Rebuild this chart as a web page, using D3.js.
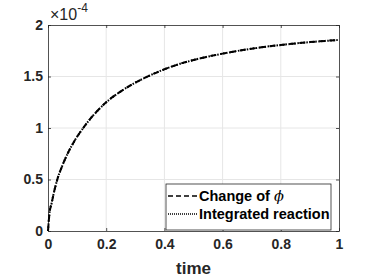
<!DOCTYPE html>
<html lang='en'>
    <head>
        <meta charset='utf-8'>
        <title>Change of phi vs integrated reaction</title>
        <script src="https://d3js.org/d3.v7.min.js" charset='utf-8'></script>
        <style type='text/css'>
            body { margin: 0; background: #fff; }
            svg { display: block; font-family: 'Liberation Sans', Arial, sans-serif; }
            .tick text { font-weight: bold; font-size: 14px; fill: #262626; }
        </style>
    </head>
    <body>
        <script type='text/javascript'>
            // values (y in units of 1e-4)
            var times = [0, 0.005, 0.0125, 0.02, 0.032, 0.05, 0.068, 0.09, 0.121, 0.15, 0.175, 0.2, 0.25, 0.3, 0.35, 0.4, 0.45, 0.5, 0.6, 0.7, 0.8, 0.9, 1.0];
            var changePhi = [0, 0.17, 0.27, 0.37, 0.50, 0.64, 0.755, 0.87, 1.00, 1.105, 1.182, 1.25, 1.355, 1.44, 1.51, 1.57, 1.62, 1.66, 1.722, 1.77, 1.806, 1.834, 1.855];
            var integrated = changePhi.slice();
            var xTicks = [0, 0.2, 0.4, 0.6, 0.8, 1];
            var yTicks = [0, 0.5, 1, 1.5, 2];
            var xTickLabels = ['0', '0.2', '0.4', '0.6', '0.8', '1'];
            var yTickLabels = ['0', '0.5', '1', '1.5', '2'];

            var W = 374, H = 280;
            var margin = {top: 25, right: 35, bottom: 49, left: 48};
            var width = W - margin.left - margin.right;
            var height = H - margin.top - margin.bottom;
            var axisColor = '#262626';

            var svg = d3.select('body').append('svg')
                .attr('width', W)
                .attr('height', H);
            var g = svg.append('g')
                .attr('transform', 'translate(' + margin.left + ',' + margin.top + ')');

            var x = d3.scaleLinear().domain([0, 1]).range([0, width]);
            var y = d3.scaleLinear().domain([0, 2]).range([height, 0]);

            // grid
            g.append('g').selectAll('line').data(xTicks.slice(1, -1)).enter().append('line')
                .attr('x1', function(d) { return x(d); }).attr('x2', function(d) { return x(d); })
                .attr('y1', 0).attr('y2', height)
                .attr('stroke', '#e6e6e6').attr('stroke-width', 1);
            g.append('g').selectAll('line').data(yTicks.slice(1, -1)).enter().append('line')
                .attr('y1', function(d) { return y(d); }).attr('y2', function(d) { return y(d); })
                .attr('x1', 0).attr('x2', width)
                .attr('stroke', '#e6e6e6').attr('stroke-width', 1);

            // axes
            var xAxis = g.append('g')
                .attr('transform', 'translate(0,' + height + ')')
                .call(d3.axisBottom(x).tickValues(xTicks).tickSizeInner(-3).tickSizeOuter(0).tickPadding(7)
                    .tickFormat(function(d, i) { return xTickLabels[i]; }));
            var yAxis = g.append('g')
                .call(d3.axisLeft(y).tickValues(yTicks).tickSizeInner(-3).tickSizeOuter(0).tickPadding(5)
                    .tickFormat(function(d, i) { return yTickLabels[i]; }));
            var xTop = g.append('g')
                .call(d3.axisTop(x).tickValues(xTicks).tickSizeInner(-3).tickSizeOuter(0).tickFormat(''));
            var yRight = g.append('g')
                .attr('transform', 'translate(' + width + ',0)')
                .call(d3.axisRight(y).tickValues(yTicks).tickSizeInner(-3).tickSizeOuter(0).tickFormat(''));
            [xAxis, yAxis, xTop, yRight].forEach(function(a) {
                a.select('.domain').attr('stroke', axisColor).attr('stroke-width', 0.8);
                a.selectAll('.tick line').attr('stroke', axisColor).attr('stroke-width', 0.8);
            });
            xAxis.selectAll('.tick text').attr('dy', '0.75em');

            // exponent label
            var expo = svg.append('text')
                .attr('x', margin.left + 2)
                .attr('y', 19.5)
                .attr('fill', axisColor)
                .style('font-size', '16px');
            expo.append('tspan').text('\u00d710');
            expo.append('tspan').attr('dy', -8).style('font-size', '12px').text('-4');

            // x label
            svg.append('text')
                .attr('x', margin.left + width / 2)
                .attr('y', 274)
                .attr('text-anchor', 'middle')
                .attr('fill', axisColor)
                .style('font-weight', 'bold')
                .style('font-size', '17px')
                .text('time');

            // lines
            var line = d3.line()
                .x(function(d) { return x(d[0]); })
                .y(function(d) { return y(d[1]); })
                .curve(d3.curveMonotoneX);
            g.append('path')
                .datum(times.map(function(t, i) { return [t, changePhi[i]]; }))
                .attr('d', line)
                .attr('fill', 'none')
                .attr('stroke', '#000')
                .attr('stroke-width', 2)
                .attr('stroke-dasharray', '6,4');
            g.append('path')
                .datum(times.map(function(t, i) { return [t, integrated[i]]; }))
                .attr('d', line)
                .attr('fill', 'none')
                .attr('stroke', '#000')
                .attr('stroke-width', 2)
                .attr('stroke-dasharray', '1.5,1.5');

            // legend
            var lg = svg.append('g').attr('transform', 'translate(166,184)');
            lg.append('rect')
                .attr('x', 0).attr('y', 0).attr('width', 165).attr('height', 46)
                .attr('fill', '#fff').attr('stroke', axisColor).attr('stroke-width', 0.8);
            var items = [
                {name: 'Change of ', sym: '\u03d5', dash: '5,3'},
                {name: 'Integrated reaction', sym: '', dash: '1,1'}
            ];
            items.forEach(function(it, i) {
                var yy = 12 + i * 18;
                lg.append('line')
                    .attr('x1', 2).attr('x2', 31).attr('y1', yy).attr('y2', yy)
                    .attr('stroke', '#000').attr('stroke-width', 1.5)
                    .attr('stroke-dasharray', it.dash);
                var t = lg.append('text')
                    .attr('x', 33).attr('y', yy + 5)
                    .attr('fill', '#000')
                    .style('font-weight', 'bold')
                    .style('font-size', '14.5px')
                    .text(it.name);
                if (it.sym) {
                    t.append('tspan').style('font-style', 'italic').style('font-weight', 'normal')
                        .style('font-family', 'DejaVu Serif, serif').text(it.sym);
                }
            });
        </script>
    </body>
</html>
